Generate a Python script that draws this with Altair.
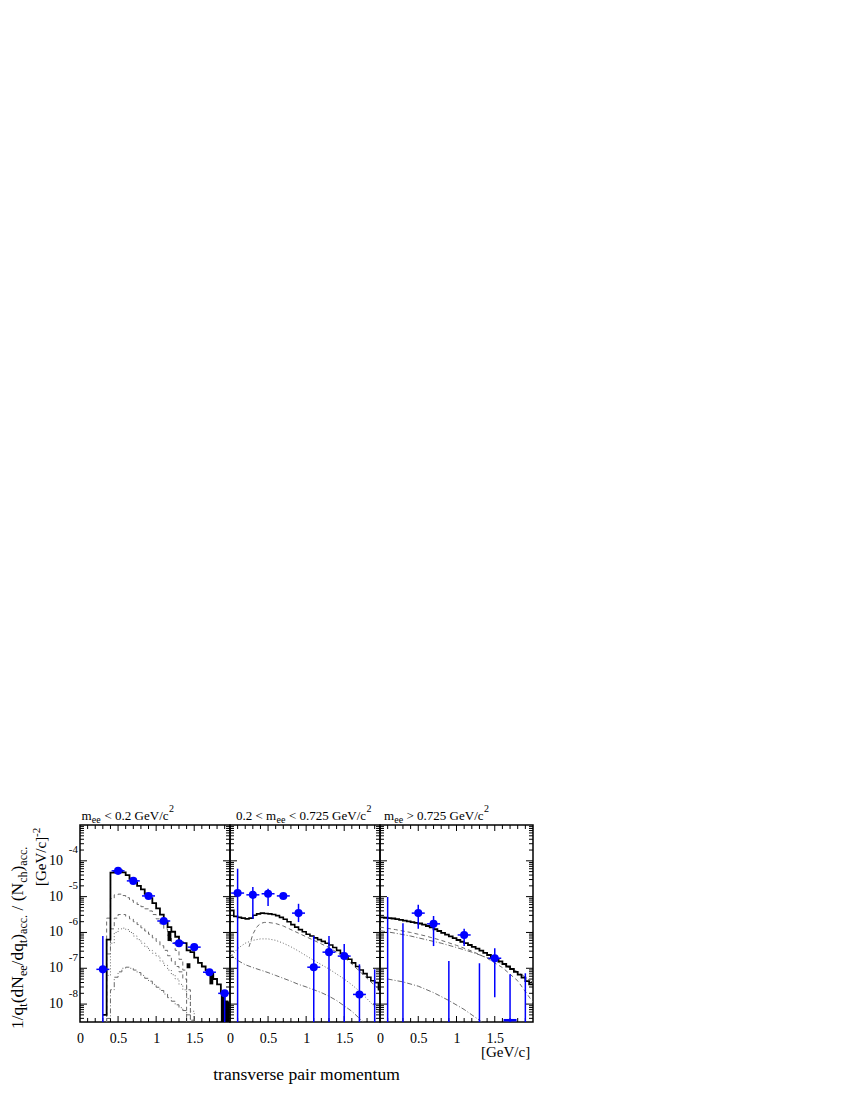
import altair as alt
import pandas as pd

SERIF = "Liberation Serif"
BLUE = "#0000ff"
GRAY = "#6a6a6a"

# ---------------- data (log10 of 1/qt dN/dqt / Nch) ----------------
BW = 0.05
bins_p1 = [round(0.30 + 0.05 * i, 2) for i in range(34)]
bins_full = [round(0.05 * i, 2) for i in range(40)]

# panel 1 : m_ee < 0.2 GeV/c^2
p1_total = [-8.3, -6.2, -4.33, -4.28, -4.27, -4.32, -4.40, -4.50, -4.60, -4.70,
            -4.80, -4.92, -5.04, -5.18, -5.33, -5.50, -5.70, -5.85, -5.98, -6.12,
            -6.28, -6.30, -6.50, -6.55, -6.70, -6.85, -6.95, -7.05, -7.15, -7.30,
            -7.45, -7.70, -7.95, -10]
p1_compA = [-10, -5.6, -5.05, -4.95, -4.93, -4.97, -5.03, -5.10, -5.16, -5.22,
            -5.28, -5.34, -5.40, -5.50, -5.62, -5.76, -5.90, -6.08, -6.28, -6.50,
            -6.75, -7.05, -10, -10, -10, -10, -10, -10, -10, -10,
            -10, -10, -10, -10]
p1_compD = [-10, -6.6, -5.9, -5.6, -5.5, -5.5, -5.55, -5.62, -5.70, -5.78,
            -5.87, -5.96, -6.05, -6.15, -6.25, -6.37, -6.50, -6.65, -6.80, -6.95,
            -7.10, -7.30, -7.60, -10, -10, -10, -10, -10, -10, -10,
            -10, -10, -10, -10]
p1_compC = [-10, -7.2, -6.3, -6.0, -5.9, -5.88, -5.92, -6.0, -6.1, -6.2,
            -6.3, -6.4, -6.5, -6.58, -6.66, -6.8, -6.92, -7.05, -7.18, -7.3,
            -7.45, -7.6, -7.85, -8.2, -10, -10, -10, -10, -10, -10,
            -10, -10, -10, -10]
p1_compE = [-10, -8.4, -7.6, -7.25, -7.1, -7.0, -6.97, -7.0, -7.05, -7.12,
            -7.2, -7.28, -7.36, -7.45, -7.53, -7.62, -7.72, -7.82, -7.92, -8.02,
            -8.1, -8.18, -8.3, -8.45, -8.6, -10, -10, -10, -10, -10,
            -10, -10, -10, -10]
p1_band_q = [1.15, 1.40, 1.70, 1.85, 1.90]
p1_band_lo = [-6.24, -7.0, -7.45, -10, -10]
p1_band_hi = [-5.96, -6.86, -7.14, -7.64, -7.9]

p1_q = [0.3, 0.5, 0.7, 0.9, 1.1, 1.3, 1.5, 1.7, 1.9]
p1_y = [-7.03, -4.28, -4.56, -4.98, -5.68, -6.30, -6.41, -7.11, -7.70]
p1_lo = [-10, -4.33, -4.62, -5.03, -5.74, -6.38, -6.48, -7.2, -10]
p1_hi = [-6.10, -4.24, -4.51, -4.93, -5.62, -6.22, -6.35, -7.02, -7.62]

# panel 2 : 0.2 < m_ee < 0.725 GeV/c^2
p2_total = [-5.38, -5.55, -5.58, -5.60, -5.62, -5.60, -5.52, -5.48, -5.46, -5.47,
            -5.48, -5.50, -5.53, -5.58, -5.63, -5.70, -5.78, -5.85, -5.92, -5.98,
            -6.05, -6.10, -6.15, -6.20, -6.25, -6.30, -6.35, -6.42, -6.50, -6.58,
            -6.66, -6.75, -6.85, -6.95, -7.05, -7.15, -7.25, -7.35, -7.40, -7.60]
p2_dash_q = [0.25, 0.30, 0.35, 0.40, 0.45, 0.50, 0.60, 0.70, 0.80, 0.90, 1.00,
             1.10, 1.20, 1.30, 1.40, 1.50, 1.60, 1.70, 1.80, 1.90, 1.97]
p2_dash = [-6.4, -6.05, -5.85, -5.75, -5.72, -5.72, -5.75, -5.82, -5.92, -6.02, -6.12,
           -6.22, -6.32, -6.42, -6.55, -6.70, -6.88, -7.08, -7.28, -7.48, -7.6]
p2_dot_q = [0.0, 0.1, 0.2, 0.3, 0.4, 0.5, 0.6, 0.7, 0.8, 0.9, 1.0,
            1.1, 1.2, 1.3, 1.4, 1.5, 1.6, 1.7, 1.8, 1.9, 1.97]
p2_dot = [-6.7, -6.45, -6.3, -6.22, -6.18, -6.18, -6.22, -6.3, -6.4, -6.52, -6.65,
          -6.78, -6.9, -7.02, -7.16, -7.3, -7.46, -7.64, -7.85, -8.08, -8.2]
p2_dd_q = [0.0, 0.1, 0.2, 0.3, 0.4, 0.5, 0.6, 0.7, 0.8, 0.9, 1.0,
           1.1, 1.2, 1.3, 1.4, 1.5, 1.6, 1.7, 1.8]
p2_dd = [-6.6, -6.78, -6.9, -6.98, -7.05, -7.12, -7.2, -7.28, -7.36, -7.45, -7.52,
         -7.6, -7.68, -7.78, -7.9, -8.05, -8.2, -8.4, -8.6]

p2_q = [0.1, 0.3, 0.5, 0.7, 0.9, 1.1, 1.3, 1.5, 1.7]
p2_y = [-4.90, -4.95, -4.92, -4.98, -5.46, -6.97, -6.55, -6.66, -7.73]
p2_lo = [-10, -5.62, -5.26, -5.05, -5.71, -10, -10, -10, -10]
p2_hi = [-4.22, -4.73, -4.78, -4.92, -5.20, -6.10, -6.10, -6.32, -6.89]
p2_lim_q = [1.9]
p2_lim_hi = [-7.03]

# panel 3 : m_ee > 0.725 GeV/c^2
p3_total = [-5.58, -5.59, -5.60, -5.61, -5.63, -5.65, -5.67, -5.69, -5.71, -5.73,
            -5.75, -5.78, -5.82, -5.86, -5.91, -5.96, -6.01, -6.06, -6.11, -6.16,
            -6.21, -6.26, -6.30, -6.35, -6.40, -6.45, -6.51, -6.57, -6.63, -6.69,
            -6.75, -6.81, -6.88, -6.95, -7.02, -7.10, -7.18, -7.26, -7.36, -7.45]
p3_c_q = [0.0, 0.2, 0.4, 0.6, 0.8, 1.0, 1.2, 1.4, 1.6, 1.8, 2.0]
p3_dash = [-5.85, -5.92, -6.0, -6.1, -6.22, -6.36, -6.52, -6.72, -6.98, -7.35, -7.95]
p3_dd = [-5.95, -6.02, -6.1, -6.2, -6.3, -6.42, -6.55, -6.7, -6.88, -7.1, -7.4]
p3_low_q = [0.1, 0.3, 0.5, 0.7, 0.9, 1.1, 1.3, 1.5]
p3_low = [-7.3, -7.38, -7.5, -7.68, -7.9, -8.15, -8.45, -8.8]

p3_q = [0.5, 0.7, 1.1, 1.5]
p3_y = [-5.46, -5.76, -6.07, -6.72]
p3_lo = [-5.9, -6.38, -6.38, -7.81]
p3_hi = [-5.23, -5.54, -5.90, -6.44]
p3_lim_q = [0.1, 0.3, 0.9, 1.3, 1.7, 1.9]
p3_lim_hi = [-5.01, -5.74, -6.80, -6.86, -7.17, -7.14]
p3_hbar_q = [1.7]
p3_hbar_y = [-8.45]

XERR = 0.085

# axis ticks / labels
x_label_values = [0, 0.5, 1, 1.5]
x_major_ticks = [0.5, 1.0, 1.5]
x_minor_ticks = [0.1, 0.2, 0.3, 0.4, 0.6, 0.7, 0.8, 0.9, 1.1, 1.2, 1.3, 1.4,
                 1.6, 1.7, 1.8, 1.9]
y_label_values = [1e-4, 1e-5, 1e-6, 1e-7, 1e-8]
y_label_exps = ["-4", "-5", "-6", "-7", "-8"]
y_decades = [-9, -8, -7, -6, -5, -4]
y_mantissas = [2, 3, 4, 5, 6, 7, 8, 9]

YMIN, YMAX = 10 ** -8.5, 1e-3
y_major_ticks = [1e-8, 1e-7, 1e-6, 1e-5, 1e-4]
y_minor_ticks = [m * 10.0 ** d for d in y_decades for m in y_mantissas
                 if YMIN < m * 10.0 ** d < YMAX]

H = 197
YS = alt.Scale(type="log", domain=[YMIN, YMAX], nice=False)
AX = alt.Axis(values=x_label_values, format="~g", labelFont=SERIF, labelFontSize=14,
              labelColor="black", ticks=False, tickSize=0, domain=False, grid=False,
              labelPadding=9, title=None, labelFlush=False, labelOverlap=False)

# approximate Times advance widths (em) for laying out rich-text pieces
TW = {"1": .5, "/": .278, "q": .5, "t": .278, "(": .333, ")": .333, "d": .5, "N": .722,
      "e": .444, "a": .444, "c": .444, ".": .25, " ": .25, "h": .5}


def one():
    return pd.DataFrame({"d": [0]})


def step_df(bins, logs):
    q = list(bins) + [round(bins[-1] + BW, 2)]
    v = list(logs) + [logs[-1]]
    return pd.DataFrame({"q": q, "lg": v})


def X(field, xs):
    return alt.X(field, scale=xs, axis=AX)


def curve(df, xs, color, width, dash=None, interp="linear"):
    kw = dict(color=color, strokeWidth=width, interpolate=interp, clip=True)
    if dash:
        kw["strokeDash"] = dash
    return alt.Chart(df).mark_line(**kw).transform_calculate(
        v="pow(10, datum.lg)").encode(
        x=X("q:Q", xs), y=alt.Y("v:Q", scale=YS, axis=None), order="q:Q")


def data_layers(xs, q, y, lo, hi, lim_q=None, lim_hi=None):
    df = pd.DataFrame({"q": q, "y": y, "lo": lo, "hi": hi})
    base = alt.Chart(df).transform_calculate(
        yv="pow(10, datum.y)", lov="pow(10, datum.lo)", hiv="pow(10, datum.hi)",
        xl=f"datum.q - {XERR}", xh=f"datum.q + {XERR}")
    vbar = base.mark_rule(color=BLUE, strokeWidth=1.5, clip=True).encode(
        x=X("q:Q", xs), y=alt.Y("lov:Q", scale=YS, axis=None), y2="hiv:Q")
    hbar = base.mark_rule(color=BLUE, strokeWidth=1.5, clip=True).encode(
        x=X("xl:Q", xs), x2="xh:Q", y=alt.Y("yv:Q", scale=YS, axis=None))
    dots = base.mark_circle(color=BLUE, size=65, opacity=1).encode(
        x=X("q:Q", xs), y=alt.Y("yv:Q", scale=YS, axis=None))
    layers = [vbar, hbar, dots]
    if lim_q:
        ldf = pd.DataFrame({"q": lim_q, "hi": lim_hi})
        layers.append(alt.Chart(ldf).mark_rule(color=BLUE, strokeWidth=1.5, clip=True)
                      .transform_calculate(hiv="pow(10, datum.hi)", lov=f"{YMIN / 10}")
                      .encode(x=X("q:Q", xs),
                              y=alt.Y("lov:Q", scale=YS, axis=None), y2="hiv:Q"))
    return layers


def tick_layers(xs, W):
    out = []
    ymaj = pd.DataFrame({"v": y_major_ticks})
    ymin = pd.DataFrame({"v": y_minor_ticks})
    for df, L in ((ymaj, 7), (ymin, 4)):
        out.append(alt.Chart(df).mark_rule(color="black", strokeWidth=1).encode(
            y=alt.Y("v:Q", scale=YS, axis=None), x=alt.value(0), x2=alt.value(L)))
        out.append(alt.Chart(df).mark_rule(color="black", strokeWidth=1).encode(
            y=alt.Y("v:Q", scale=YS, axis=None), x=alt.value(W), x2=alt.value(W - L)))
    xmaj = pd.DataFrame({"v": x_major_ticks})
    xmin = pd.DataFrame({"v": x_minor_ticks})
    for df, L in ((xmaj, 6), (xmin, 4)):
        out.append(alt.Chart(df).mark_rule(color="black", strokeWidth=1).encode(
            x=X("v:Q", xs), y=alt.value(0), y2=alt.value(L)))
        out.append(alt.Chart(df).mark_rule(color="black", strokeWidth=1).encode(
            x=X("v:Q", xs), y=alt.value(H), y2=alt.value(H - L)))
    return out


def txt(s, x, y, size=13, angle=0, align="left", baseline="alphabetic"):
    kw = dict(font=SERIF, fontSize=size, color="black", align=align, baseline=baseline)
    if angle:
        kw["angle"] = angle
    return alt.Chart(one()).mark_text(**kw).encode(
        x=alt.value(x), y=alt.value(y), text=alt.value(s))


def vertical_rich(pieces, y0, x_main, x_sub, f_main, f_sub):
    """pieces: list of (text, is_sub); laid out bottom-to-top, rotated 270."""
    out, y = [], y0
    for s, sub in pieces:
        f = f_sub if sub else f_main
        lead = len(s) - len(s.lstrip(" "))
        y -= lead * TW[" "] * f
        s = s.lstrip(" ")
        out.append(txt(s, x_sub if sub else x_main, y, f, 270))
        y -= sum(TW.get(ch, .5) for ch in s) * f
    return out


# ---------------- panel 1 ----------------
W1 = 150
xs1 = alt.Scale(domain=[0, 1.97], nice=False, zero=False)
band = pd.DataFrame({"q": p1_band_q, "lo": p1_band_lo, "hi": p1_band_hi})
band_layer = alt.Chart(band).mark_rect(color="black", clip=True).transform_calculate(
    q2=f"datum.q + {BW}", lov="pow(10, datum.lo)", hiv="pow(10, datum.hi)").encode(
    x=X("q:Q", xs1), x2="q2:Q",
    y=alt.Y("lov:Q", scale=YS, axis=None), y2="hiv:Q")

ylab = pd.DataFrame({"v": y_label_values, "e": y_label_exps})
ylab10 = alt.Chart(ylab).mark_text(font=SERIF, fontSize=14, align="right", baseline="middle",
                                   color="black").encode(
    y=alt.Y("v:Q", scale=YS, axis=None), x=alt.value(-17), text=alt.value("10"))
ylabexp = alt.Chart(ylab).mark_text(font=SERIF, fontSize=11, align="right", baseline="middle",
                                    color="black", dy=-10.5).encode(
    y=alt.Y("v:Q", scale=YS, axis=None), x=alt.value(-2), text="e:N")

ytitle = vertical_rich(
    [("1/q", False), ("t", True), ("(dN", False), ("ee", True), ("/dq", False), ("t", True),
     (")", False), ("acc.", True), (" / (N", False), ("ch", True), (")", False), ("acc.", True)],
    204, -57, -53, 17.5, 12)
ytitle += [txt("[GeV/c]", -34, 61, 15, 270), txt("-2", -40, 12, 11, 270)]

# panel titles: m_ee pieces (leading blanks are given as x offsets, SVG drops them)
title1 = [txt("m", 1.5, -5.5), txt("ee", 11.8, -2, 10), txt("< 0.2 GeV/c", 24.5, -5.5),
          txt("2", 89, -13, 10)]

panel1 = alt.layer(
    *tick_layers(xs1, W1),
    curve(step_df(bins_p1, p1_compE), xs1, GRAY, 1, [5, 2, 1, 2], "step-after"),
    curve(step_df(bins_p1, p1_compC), xs1, GRAY, 1, [1, 2], "step-after"),
    curve(step_df(bins_p1, p1_compD), xs1, GRAY, 1, [4, 3], "step-after"),
    curve(step_df(bins_p1, p1_compA), xs1, GRAY, 1, [4, 3], "step-after"),
    band_layer,
    curve(step_df(bins_p1, p1_total), xs1, "black", 1.8, None, "step-after"),
    *data_layers(xs1, p1_q, p1_y, p1_lo, p1_hi),
    ylab10, ylabexp, *ytitle, *title1,
).properties(width=W1, height=H)

# ---------------- panel 2 ----------------
W2 = 150
xs2 = alt.Scale(domain=[0, 1.97], nice=False, zero=False)
title2 = [txt("0.2 < m", 6, -5.5), txt("ee", 46.5, -2, 10),
          txt("< 0.725 GeV/c", 59, -5.5), txt("2", 136.5, -13, 10)]
xtitle = [txt("transverse pair momentum", 76.5, 255, 17.5, 0, "center")]

panel2 = alt.layer(
    *tick_layers(xs2, W2),
    curve(pd.DataFrame({"q": p2_dd_q, "lg": p2_dd}), xs2, GRAY, 1, [5, 2, 1, 2]),
    curve(pd.DataFrame({"q": p2_dot_q, "lg": p2_dot}), xs2, GRAY, 1, [1, 2]),
    curve(pd.DataFrame({"q": p2_dash_q, "lg": p2_dash}), xs2, GRAY, 1, [4, 3]),
    curve(step_df(bins_full, p2_total), xs2, "black", 1.6, None, "step-after"),
    *data_layers(xs2, p2_q, p2_y, p2_lo, p2_hi, p2_lim_q, p2_lim_hi),
    *title2, *xtitle,
).properties(width=W2, height=H)

# ---------------- panel 3 ----------------
W3 = 153
xs3 = alt.Scale(domain=[0, 2.0], nice=False, zero=False)
title3 = [txt("m", 4, -5.5), txt("ee", 14.2, -2, 10),
          txt("> 0.725 GeV/c", 26.5, -5.5), txt("2", 104, -13, 10)]
unit = [txt("[GeV/c]", 101, 232, 15)]
hb = pd.DataFrame({"q": p3_hbar_q, "y": p3_hbar_y})
hbar3 = alt.Chart(hb).mark_rule(color=BLUE, strokeWidth=2.5, clip=True).transform_calculate(
    yv="pow(10, datum.y)", xl=f"datum.q - {XERR}", xh=f"datum.q + {XERR}").encode(
    x=X("xl:Q", xs3), x2="xh:Q", y=alt.Y("yv:Q", scale=YS, axis=None))

panel3 = alt.layer(
    *tick_layers(xs3, W3),
    curve(pd.DataFrame({"q": p3_low_q, "lg": p3_low}), xs3, GRAY, 1, [5, 2, 1, 2]),
    curve(pd.DataFrame({"q": p3_c_q, "lg": p3_dd}), xs3, GRAY, 1, [5, 2, 1, 2]),
    curve(pd.DataFrame({"q": p3_c_q, "lg": p3_dash}), xs3, GRAY, 1, [4, 3]),
    curve(step_df(bins_full, p3_total), xs3, "black", 1.8, None, "step-after"),
    *data_layers(xs3, p3_q, p3_y, p3_lo, p3_hi, p3_lim_q, p3_lim_hi),
    hbar3, *title3, *unit,
).properties(width=W3, height=H)

chart = alt.hconcat(panel1, panel2, panel3, spacing=0, bounds="flush").properties(
    padding={"left": 0, "top": 795, "right": 5, "bottom": 5},
    background="white",
).configure_view(stroke="black", strokeWidth=1.5)

chart.save("out.html", embed_options={"renderer": "svg", "actions": False})
